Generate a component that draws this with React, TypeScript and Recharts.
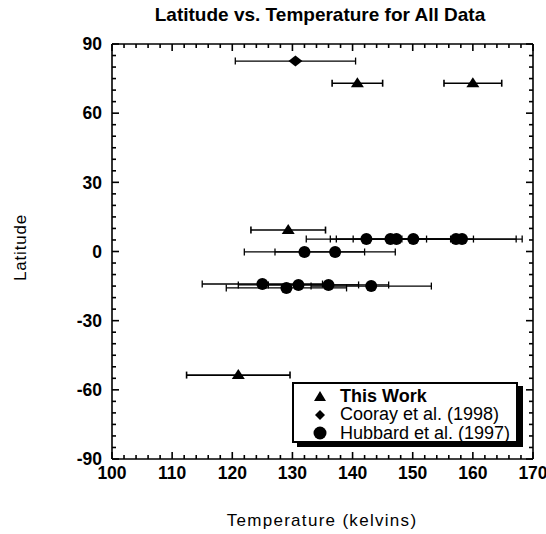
import { ScatterChart, Scatter, XAxis, YAxis, ErrorBar } from 'recharts'

// This Work (triangles)
const thisWorkTemp = [140.8, 160.0, 129.3, 121.0]
const thisWorkLat = [73, 73, 9.3, -53.6]
const thisWorkErr = [4.2, 4.8, 6.2, 8.6]

// Cooray et al. (1998) (diamond)
const coorayTemp = [130.5]
const coorayLat = [82.6]
const coorayErr = [10]

// Hubbard et al. (1997) (circles)
const hubbardTemp = [142.3, 146.3, 147.3, 150.1, 157.2, 158.2, 132.0, 137.1, 125.0, 129.0, 131.0, 136.0, 143.1]
const hubbardLat = [5.4, 5.4, 5.4, 5.4, 5.4, 5.4, -0.2, -0.2, -14.1, -15.8, -14.5, -14.5, -15.0]
const hubbardErr = [10, 10, 10, 10, 10, 10, 10, 10, 10, 10, 10, 10, 10]

const xTicks = Array.from({ length: 36 }, (_, i) => 100 + i * 2)
const yTicks = Array.from({ length: 37 }, (_, i) => -90 + i * 5)

const font = 'Arial, "Liberation Sans", Helvetica, sans-serif'
const TICK = '#000'

const toRows = (t: number[], lat: number[], err: number[]) => t.map((v, i) => ({ t: v, lat: lat[i], err: err[i] }))

const thisWork = toRows(thisWorkTemp, thisWorkLat, thisWorkErr)
const cooray = toRows(coorayTemp, coorayLat, coorayErr)
const hubbard = toRows(hubbardTemp, hubbardLat, hubbardErr)

const Triangle = ({ cx, cy }: any) => <path d={`M${cx},${cy - 6} L${cx + 6.5},${cy + 4} L${cx - 6.5},${cy + 4} Z`} fill="#000" />
const Diamond = ({ cx, cy }: any) => <path d={`M${cx},${cy - 5.5} L${cx + 7},${cy} L${cx},${cy + 5.5} L${cx - 7},${cy} Z`} fill="#000" />
const Dot = ({ cx, cy }: any) => <circle cx={cx} cy={cy} r={6} fill="#000" />
const Nothing = () => <g />

const isMajorX = (v: number) => v % 10 === 0
const isMajorY = (v: number) => v % 30 === 0

// ticks point into the plot, like the original frame
const BottomTick = (props: any) => {
  const { x, y, payload } = props
  const major = isMajorX(payload.value)
  return (
    <g>
      <line x1={x} x2={x} y1={y} y2={y - (major ? 7 : 4)} stroke={TICK} strokeWidth={1.6} />
      {major && (
        <text x={x} y={y + 20} textAnchor="middle" fontSize={17.5} fontWeight="bold" fontFamily={font} fill="#000">
          {payload.value}
        </text>
      )}
    </g>
  )
}

const TopTick = (props: any) => {
  const { x, y, payload } = props
  const major = isMajorX(payload.value)
  return <line x1={x} x2={x} y1={y} y2={y + (major ? 7 : 4)} stroke={TICK} strokeWidth={1.6} />
}

const LeftTick = (props: any) => {
  const { x, y, payload } = props
  const major = isMajorY(payload.value)
  return (
    <g>
      <line x1={x} x2={x + (major ? 7 : 4)} y1={y} y2={y} stroke={TICK} strokeWidth={1.6} />
      {major && (
        <text x={x - 10} y={y} dy="0.36em" textAnchor="end" fontSize={17.5} fontWeight="bold" fontFamily={font} fill="#000">
          {payload.value}
        </text>
      )}
    </g>
  )
}

const RightTick = (props: any) => {
  const { x, y, payload } = props
  const major = isMajorY(payload.value)
  return <line x1={x} x2={x - (major ? 7 : 4)} y1={y} y2={y} stroke={TICK} strokeWidth={1.6} />
}

const axisLine = { stroke: '#000', strokeWidth: 1.6 }

function LegendBox() {
  const row = { display: 'flex', alignItems: 'center', height: 18.5 }
  const mark = { width: 26, display: 'flex', justifyContent: 'center' }
  return (
    <div
      style={{
        position: 'absolute', left: 292, top: 382, width: 226, height: 61,
        border: '2px solid #000', boxShadow: '5px 4px 0 #000', background: '#fff',
        fontFamily: font, fontSize: 18, color: '#000', padding: '3px 0 0 13px', boxSizing: 'border-box',
      }}
    >
      <div style={row}>
        <span style={mark}><svg width={14} height={12}><path d="M7,1 L13,11 L1,11 Z" fill="#000" /></svg></span>
        <span style={{ marginLeft: 7, fontWeight: 'bold' }}>This Work</span>
      </div>
      <div style={row}>
        <span style={mark}><svg width={12} height={12}><path d="M6,1 L11,6 L6,11 L1,6 Z" fill="#000" /></svg></span>
        <span style={{ marginLeft: 7 }}>Cooray et al. (1998)</span>
      </div>
      <div style={row}>
        <span style={mark}><svg width={14} height={14}><circle cx={7} cy={7} r={6.5} fill="#000" /></svg></span>
        <span style={{ marginLeft: 7 }}>Hubbard et al. (1997)</span>
      </div>
    </div>
  )
}

export default function App() {
  return (
    <div style={{ position: 'absolute', left: 0, top: 0, width: 546, height: 534, background: '#fff', overflow: 'hidden' }}>
      <div
        style={{
          position: 'absolute', left: 0, top: 4, width: 640, textAlign: 'center',
          fontFamily: font, fontWeight: 'bold', fontSize: 19, color: '#000',
        }}
      >
        Latitude vs. Temperature for All Data
      </div>
      <ScatterChart width={546} height={534} margin={{ top: 43, right: 12, bottom: 0, left: 0 }}>
        <XAxis
          dataKey="t" type="number" domain={[100, 170]} ticks={xTicks} interval={0}
          tickSize={0} tickMargin={0} tick={<BottomTick />} tickLine={false} axisLine={axisLine} height={75}
          label={({ viewBox }: any) => (
            <text x={322} y={viewBox.y + 67} textAnchor="middle" fontSize={17} fontFamily={font} letterSpacing={1.3} fill="#000">
              Temperature (kelvins)
            </text>
          )}
        />
        <XAxis
          xAxisId="top" orientation="top" dataKey="t" type="number" domain={[100, 170]} ticks={xTicks} interval={0}
          tickSize={0} tickMargin={0} tick={<TopTick />} tickLine={false} axisLine={axisLine} height={1}
        />
        <YAxis
          dataKey="lat" type="number" domain={[-90, 90]} ticks={yTicks} interval={0}
          tickSize={0} tickMargin={0} tick={<LeftTick />} tickLine={false} axisLine={axisLine} width={112}
          label={({ viewBox }: any) => {
            const cy = viewBox.y + viewBox.height / 2 - 4
            return (
              <text x={20} y={cy} transform={`rotate(-90 20 ${cy})`} textAnchor="middle" dy="0.35em" fontSize={17} fontFamily={font} letterSpacing={0.8} fill="#000">
                Latitude
              </text>
            )
          }}
        />
        <YAxis
          yAxisId="right" orientation="right" dataKey="lat" type="number" domain={[-90, 90]} ticks={yTicks} interval={0}
          tickSize={0} tickMargin={0} tick={<RightTick />} tickLine={false} axisLine={axisLine} width={1}
        />
        {/* invisible series so the mirrored frame axes get drawn */}
        <Scatter data={cooray} xAxisId="top" yAxisId="right" shape={<Nothing />} legendType="none" isAnimationActive={false} />
        <Scatter data={hubbard} shape={<Dot />} isAnimationActive={false}>
          <ErrorBar dataKey="err" direction="x" width={3.5} stroke="#000" strokeWidth={1.3} />
        </Scatter>
        <Scatter data={cooray} shape={<Diamond />} isAnimationActive={false}>
          <ErrorBar dataKey="err" direction="x" width={3.5} stroke="#000" strokeWidth={1.3} />
        </Scatter>
        <Scatter data={thisWork} shape={<Triangle />} isAnimationActive={false}>
          <ErrorBar dataKey="err" direction="x" width={3.5} stroke="#000" strokeWidth={1.6} />
        </Scatter>
      </ScatterChart>
      <LegendBox />
    </div>
  )
}
